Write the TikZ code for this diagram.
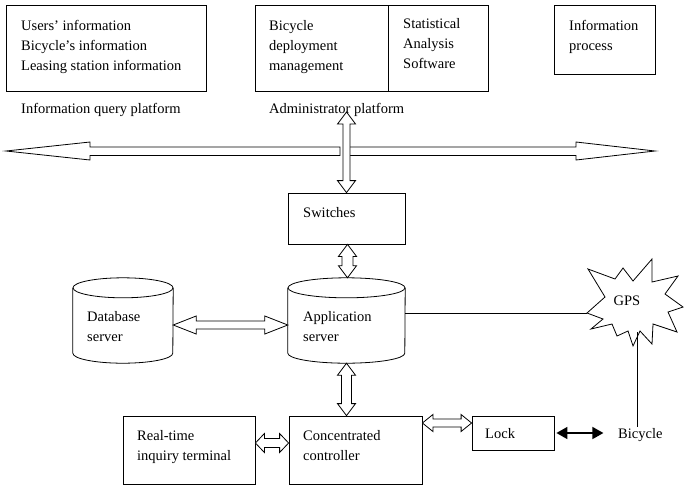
\documentclass[tikz,border=0pt]{standalone}
\usepackage{fontspec}
\setmainfont{Liberation Serif}
\usetikzlibrary{calc,arrows.meta}
\newcommand\hblock[5]{%
  \draw[blk] let \p1=#1, \p2=#2 in
   (\x1,\y1) -- ({\x1+#5},{\y1+#4}) -- ({\x1+#5},{\y1+#3}) -- ({\x2-#5},{\y1+#3}) -- ({\x2-#5},{\y1+#4}) -- (\x2,\y1)
   -- ({\x2-#5},{\y1-#4}) -- ({\x2-#5},{\y1-#3}) -- ({\x1+#5},{\y1-#3}) -- ({\x1+#5},{\y1-#4}) -- cycle;}
\newcommand\vblock[5]{%
  \draw[blk] let \p1=#1, \p2=#2 in
   (\x1,\y1) -- ({\x1+#4},{\y1-#5}) -- ({\x1+#3},{\y1-#5}) -- ({\x1+#3},{\y2+#5}) -- ({\x1+#4},{\y2+#5}) -- (\x1,\y2)
   -- ({\x1-#4},{\y2+#5}) -- ({\x1-#3},{\y2+#5}) -- ({\x1-#3},{\y1-#5}) -- ({\x1-#4},{\y1-#5}) -- cycle;}
\newcommand\cyl[3]{% node, x radius, y radius
  \draw[line width=0.8pt] ($(#1.north west)+(0,#3)$) -- ($(#1.south west)+(0,-#3)$)
     arc[start angle=180,end angle=360,x radius=#2pt,y radius=#3pt] -- ($(#1.north east)+(0,#3)$);
  \draw[line width=0.8pt] ($(#1.north)+(0,#3)$) ellipse[x radius=#2pt,y radius=#3pt];}
\begin{document}
\begin{tikzpicture}[x=1pt,y=-1pt,
  box/.style={draw, line width=0.8pt, inner sep=0pt},
  ghost/.style={inner sep=0pt},
  txt/.style={anchor=base west, inner sep=0pt, align=left, font=\fontsize{14.5}{20}\selectfont},
  blk/.style={draw, line width=0.8pt, fill=white, line join=miter}]
\useasboundingbox (0,0) rectangle (684,485);
\fill[white] (0,0) rectangle (684,485);

% top boxes
\node[box, minimum width=200pt, minimum height=86pt] (userbox) at (106,48) {};
\node[box, minimum width=133pt, minimum height=86pt] (deploy) at (321.5,48) {};
\node[box, minimum width=100pt, minimum height=86pt] (stat) at (438,48) {};
\node[box, minimum width=101pt, minimum height=69pt] (proc) at (604.5,39.5) {};
% anchor "base" of a multi-line node is the baseline of its last line
\node[txt] (usertxt) at (21,70) {Users' information\\Bicycle's information\\Leasing station information};
\node[txt] (deploytxt) at (269,70) {Bicycle\\deployment\\management};
\node[txt] (stattxt) at (403,68) {Statistical\\Analysis\\Software};
\node[txt] (proctxt) at (569,50) {Information\\process};
\node[txt] (querylbl) at (21,113) {Information query platform};
\node[txt] (adminlbl) at (269,113) {Administrator platform};

% bus
\coordinate (busL) at (6,151);
\coordinate (busR) at (655,151);
\draw[blk] (340,147) -- (90,147) -- (90,142) -- (busL) -- (90,160) -- (90,155.5) -- (340,155.5) -- cycle;
\draw[blk] (347,155.5) -- (576,155.5) -- (576,160) -- (busR) -- (576,142) -- (576,147) -- (347,147);

% switches
\node[box, minimum width=117pt, minimum height=51pt] (sw) at (346.5,218.5) {};
\node[txt] (swtxt) at (303,217) {Switches};
\coordinate (adm) at (346.5,112);
\vblock{(adm)}{(adm |- sw.north)}{3.5pt}{9pt}{12pt}

% cylinders
\node[ghost, minimum width=100pt, minimum height=85pt] (db) at (123,320.5) {};
\node[ghost, minimum width=117pt, minimum height=85pt] (app) at (346.5,320.5) {};
\cyl{db}{50}{10}
\cyl{app}{58.5}{10}
\node[txt] (dbtxt) at (87,341) {Database\\server};
\node[txt] (apptxt) at (303,341) {Application\\server};
\vblock{($(sw.south)+(1,0)$)}{($(app.north)+(1,0)$)}{5.5pt}{9pt}{12pt}
\hblock{($(db.east)+(0,4.5)$)}{($(app.west)+(0,4.5)$)}{4pt}{9pt}{23pt}

% bottom row
\node[box, minimum width=132pt, minimum height=68pt] (rt) at (189,450) {};
\node[box, minimum width=133pt, minimum height=68pt] (cc) at (355.5,450) {};
\node[box, minimum width=82pt, minimum height=34pt] (lock) at (513,433) {};
\node[txt] (rttxt) at (137,460) {Real-time\\inquiry terminal};
\node[txt] (cctxt) at (303,460) {Concentrated\\controller};
\node[txt] (locktxt) at (485,438) {Lock};
\node[txt] (bike) at (618,438) {Bicycle};
\vblock{(app.south)}{(app.south |- cc.north)}{5pt}{9pt}{12pt}
\hblock{($(rt.east)+(0,-7)$)}{($(cc.west)+(0,-7)$)}{4.5pt}{9.5pt}{9pt}
\hblock{($(cc.east)+(0,-27)$)}{($(lock.west)+(0,-10)$)}{4pt}{8.5pt}{10.5pt}
\draw[line width=1.6pt, {Triangle[length=11pt,width=12pt]}-{Triangle[length=11pt,width=12pt]}]
  ($(lock.east)+(2,0)$) -- ($(lock.east)+(49,0)$);

% GPS
\node[font=\fontsize{14.5}{20}\selectfont, inner sep=0pt] (gps) at (627,301) {GPS};
\draw[line width=0.8pt, line join=miter, shift={(gps.center)}]
  (-39,-32) -- (-12,-22) -- (-4,-33) -- (6,-20) -- (25,-42) -- (25,-19) -- (51,-25) -- (38,-7)
  -- (56,6) -- (41,11) -- (50,31) -- (26,23) -- (25,43) -- (13,30) -- (6,45) -- (1,30)
  -- (-10,35) -- (-15,23) -- (-36,28) -- (-24,18) -- (-40,12) -- (-22,-4) -- cycle;
\coordinate (gpsL) at ($(gps.center)+(-40,12)$);
\coordinate (gpsB) at ($(gps.center)+(10,31)$);
\draw[line width=0.8pt] (app.east |- gpsL) -- (gpsL);
\draw[line width=0.8pt] (gpsB) -- (gpsB |- 0,427);
\end{tikzpicture}
\end{document}
